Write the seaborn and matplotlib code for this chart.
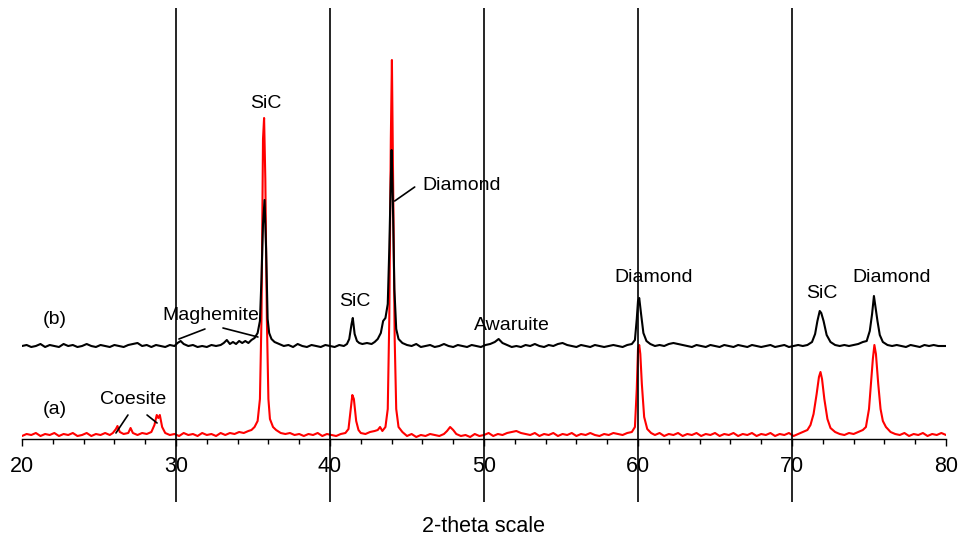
import numpy as np
import pandas as pd
import matplotlib
matplotlib.use("Agg")
import matplotlib.pyplot as plt
import seaborn as sns
from matplotlib.ticker import MultipleLocator

# ── Data (intensity in arbitrary units) ────────────────────────────────────
two_theta_a = [
    20.0, 20.3, 20.6, 20.9, 21.2, 21.5, 21.8, 22.1, 22.4, 22.7, 23.0, 23.3, 23.6, 23.9,
    24.2, 24.5, 24.8, 25.1, 25.4, 25.7, 25.9, 26.1, 26.2, 26.35, 26.6, 26.9, 27.05, 27.2,
    27.5, 27.8, 28.1, 28.4, 28.6, 28.75, 28.85, 28.95, 29.1, 29.3, 29.6, 29.9, 30.2, 30.5,
    30.8, 31.1, 31.4, 31.7, 32.0, 32.3, 32.6, 32.9, 33.2, 33.5, 33.8, 34.1, 34.4, 34.7,
    34.9, 35.1, 35.3, 35.45, 35.55, 35.65, 35.72, 35.8, 35.9, 36.0, 36.1, 36.3, 36.5, 36.8,
    37.1, 37.4, 37.7, 38.0, 38.3, 38.6, 38.9, 39.2, 39.5, 39.8, 40.1, 40.4, 40.7, 41.0,
    41.2, 41.35, 41.45, 41.55, 41.7, 41.85, 42.0, 42.3, 42.6, 42.9, 43.1, 43.25, 43.4, 43.6,
    43.75, 43.85, 43.95, 44.02, 44.1, 44.2, 44.3, 44.45, 44.7, 45.0, 45.3, 45.6, 45.9, 46.2,
    46.5, 46.8, 47.1, 47.4, 47.6, 47.8, 48.0, 48.2, 48.5, 48.8, 49.1, 49.4, 49.7, 50.0,
    50.3, 50.6, 50.9, 51.2, 51.5, 51.8, 52.1, 52.4, 52.7, 53.0, 53.3, 53.6, 53.9, 54.2,
    54.5, 54.8, 55.1, 55.4, 55.7, 56.0, 56.3, 56.6, 56.9, 57.2, 57.5, 57.8, 58.1, 58.4,
    58.7, 59.0, 59.3, 59.6, 59.8, 59.92, 60.0, 60.08, 60.15, 60.25, 60.4, 60.6, 60.85, 61.1,
    61.4, 61.7, 62.0, 62.3, 62.6, 62.9, 63.2, 63.5, 63.8, 64.1, 64.4, 64.7, 65.0, 65.3,
    65.6, 65.9, 66.2, 66.5, 66.8, 67.1, 67.4, 67.7, 68.0, 68.3, 68.6, 68.9, 69.2, 69.5,
    69.8, 70.1, 70.4, 70.7, 71.0, 71.2, 71.4, 71.6, 71.75, 71.85, 71.95, 72.1, 72.3, 72.5,
    72.8, 73.1, 73.4, 73.7, 74.0, 74.3, 74.6, 74.8, 75.0, 75.15, 75.25, 75.35, 75.45, 75.6,
    75.75, 75.9, 76.1, 76.4, 76.7, 77.0, 77.3, 77.6, 77.9, 78.2, 78.5, 78.8, 79.1, 79.4,
    79.7, 80.0,
]
intensity_a = [
    3, 5, 4, 6, 3, 5, 4, 6, 3, 5, 4, 6, 3, 4,
    6, 3, 5, 4, 6, 4, 6, 10, 13, 7, 5, 6, 11, 6,
    4, 6, 5, 7, 14, 24, 21, 24, 12, 6, 4, 5, 3, 6,
    4, 5, 3, 6, 4, 5, 3, 6, 4, 6, 5, 7, 6, 8,
    9, 12, 18, 40, 120, 300, 321, 260, 120, 40, 20, 12, 9, 6,
    5, 6, 4, 5, 3, 5, 4, 6, 3, 5, 4, 3, 5, 6,
    10, 30, 44, 40, 18, 9, 6, 5, 7, 8, 9, 12, 8, 12,
    30, 120, 300, 379, 250, 100, 30, 12, 7, 3, 5, 2, 4, 3,
    5, 4, 3, 5, 8, 12, 9, 5, 3, 4, 2, 5, 3, 4,
    6, 3, 5, 4, 6, 7, 8, 6, 5, 4, 6, 3, 5, 4,
    6, 3, 5, 4, 6, 3, 5, 4, 6, 4, 3, 5, 4, 6,
    5, 4, 6, 7, 12, 50, 90, 94, 85, 55, 22, 10, 6, 4,
    6, 3, 5, 4, 6, 3, 5, 4, 6, 3, 5, 4, 6, 3,
    5, 4, 6, 3, 5, 4, 6, 3, 5, 4, 6, 3, 5, 4,
    6, 3, 5, 7, 9, 14, 25, 45, 62, 67, 60, 40, 20, 11,
    7, 5, 4, 6, 5, 7, 9, 12, 30, 60, 80, 94, 85, 55,
    30, 18, 12, 7, 5, 4, 6, 3, 5, 4, 6, 3, 5, 4,
    6, 4,
]

two_theta_b = [
    20.0, 20.3, 20.6, 20.9, 21.2, 21.5, 21.8, 22.1, 22.4, 22.7, 23.0, 23.3, 23.6, 23.9,
    24.2, 24.5, 24.8, 25.1, 25.4, 25.7, 26.0, 26.3, 26.6, 26.9, 27.2, 27.5, 27.8, 28.1,
    28.4, 28.7, 29.0, 29.3, 29.6, 29.9, 30.1, 30.3, 30.5, 30.8, 31.1, 31.4, 31.7, 32.0,
    32.3, 32.6, 32.9, 33.1, 33.3, 33.5, 33.7, 33.9, 34.1, 34.3, 34.5, 34.7, 34.9, 35.1,
    35.3, 35.45, 35.55, 35.65, 35.75, 35.85, 35.95, 36.05, 36.2, 36.4, 36.7, 37.0, 37.3, 37.6,
    37.9, 38.2, 38.5, 38.8, 39.1, 39.4, 39.7, 40.0, 40.3, 40.6, 40.9, 41.1, 41.25, 41.4,
    41.48, 41.6, 41.75, 41.9, 42.1, 42.4, 42.7, 42.9, 43.1, 43.3, 43.45, 43.6, 43.75, 43.85,
    43.95, 44.0, 44.08, 44.18, 44.3, 44.45, 44.7, 45.0, 45.3, 45.6, 45.9, 46.2, 46.5, 46.8,
    47.1, 47.4, 47.7, 48.0, 48.3, 48.6, 48.9, 49.2, 49.5, 49.8, 50.1, 50.4, 50.7, 50.95,
    51.2, 51.5, 51.8, 52.1, 52.4, 52.7, 53.0, 53.3, 53.6, 53.9, 54.2, 54.5, 54.8, 55.1,
    55.4, 55.7, 56.0, 56.3, 56.6, 56.9, 57.2, 57.5, 57.8, 58.1, 58.4, 58.7, 59.0, 59.3,
    59.6, 59.8, 59.92, 60.0, 60.08, 60.2, 60.35, 60.55, 60.8, 61.1, 61.4, 61.7, 62.0, 62.3,
    62.6, 62.9, 63.2, 63.5, 63.8, 64.1, 64.4, 64.7, 65.0, 65.3, 65.6, 65.9, 66.2, 66.5,
    66.8, 67.1, 67.4, 67.7, 68.0, 68.3, 68.6, 68.9, 69.2, 69.5, 69.8, 70.1, 70.4, 70.7,
    71.0, 71.3, 71.5, 71.65, 71.8, 71.9, 72.05, 72.25, 72.5, 72.8, 73.1, 73.4, 73.7, 74.0,
    74.3, 74.6, 74.85, 75.05, 75.2, 75.32, 75.42, 75.55, 75.7, 75.9, 76.2, 76.5, 76.8, 77.1,
    77.4, 77.7, 78.0, 78.3, 78.6, 78.9, 79.2, 79.5, 79.8, 80.0,
]
intensity_b = [
    93, 94, 92, 93, 95, 92, 94, 93, 92, 95, 93, 94, 92, 93,
    95, 93, 92, 94, 93, 92, 94, 93, 92, 94, 95, 96, 93, 94,
    92, 94, 93, 92, 94, 93, 96, 98, 95, 93, 94, 92, 93, 92,
    94, 93, 94, 96, 99, 95, 97, 95, 98, 96, 98, 96, 99, 101,
    106, 118, 160, 215, 239, 190, 120, 106, 100, 97, 95, 93, 94, 92,
    95, 93, 92, 94, 93, 92, 94, 93, 92, 94, 93, 95, 100, 115,
    121, 105, 98, 96, 95, 96, 95, 97, 100, 106, 118, 121, 135, 190,
    260, 289, 240, 150, 110, 100, 96, 94, 93, 95, 92, 93, 94, 92,
    93, 95, 93, 92, 94, 93, 92, 94, 93, 92, 94, 95, 97, 100,
    96, 94, 92, 93, 92, 94, 93, 95, 93, 92, 94, 93, 95, 96,
    94, 93, 92, 94, 93, 92, 94, 93, 92, 93, 94, 93, 92, 94,
    95, 99, 120, 138, 141, 125, 106, 98, 95, 93, 94, 93, 95, 96,
    95, 94, 93, 92, 94, 93, 92, 94, 93, 92, 94, 93, 92, 94,
    93, 92, 94, 93, 92, 93, 94, 92, 93, 94, 92, 93, 94, 93,
    94, 97, 105, 118, 128, 126, 118, 104, 97, 94, 93, 94, 93, 94,
    95, 97, 98, 108, 125, 143, 132, 118, 104, 97, 94, 93, 94, 93,
    92, 94, 93, 92, 94, 93, 94, 93, 93, 93,
]

grid_positions = [30, 40, 50, 60, 70]

# phase labels: (text, x, y)
peak_labels = [
    ("SiC", 35.84, 336),
    ("SiC", 41.6, 137),
    ("Awaruite", 51.8, 114),
    ("Diamond", 61.04, 161),
    ("SiC", 71.95, 146),
    ("Diamond", 76.5, 161),
    ("Maghemite", 32.27, 124),
    ("Coesite", 27.2, 39),
    ("(b)", 22.14, 119),
    ("(a)", 22.14, 29),
]

df_a = pd.DataFrame({"two_theta": two_theta_a, "intensity": intensity_a})
df_b = pd.DataFrame({"two_theta": two_theta_b, "intensity": intensity_b})

# ── Plot ────────────────────────────────────────────────────────────────────
sns.set_theme(style="white")
plt.rcParams["font.family"] = ["Liberation Sans", "DejaVu Sans"]
plt.rcParams["text.color"] = "black"
plt.rcParams["axes.labelcolor"] = "black"
plt.rcParams["xtick.color"] = "black"
plt.rcParams["xtick.labelcolor"] = "black"

fig = plt.figure(figsize=(9.58, 5.39), dpi=100)
ax = fig.add_axes([22 / 958, 100 / 539, 924 / 958, 431 / 539])

sns.lineplot(data=df_a, x="two_theta", y="intensity", color="#ff0000",
             linewidth=1.5, estimator=None, ax=ax)
sns.lineplot(data=df_b, x="two_theta", y="intensity", color="black",
             linewidth=1.5, estimator=None, ax=ax)

ax.set_xlim(20, 80)
ax.set_ylim(0, 431)

# vertical reference lines run past the axis, through the tick labels
ax.vlines(grid_positions, -63, 431, colors="black", linewidth=1.2, clip_on=False)

for name in ["top", "left", "right"]:
    ax.spines[name].set_visible(False)
ax.spines["bottom"].set_color("black")
ax.spines["bottom"].set_linewidth(1.0)

ax.set_yticks([])
ax.xaxis.set_major_locator(MultipleLocator(10))
ax.xaxis.set_minor_locator(MultipleLocator(2))
ax.tick_params(axis="x", which="major", direction="out", length=5, width=1,
               color="black", labelcolor="black", labelsize=15.5, pad=7, bottom=True)
ax.tick_params(axis="x", which="minor", direction="out", length=3.5, width=1,
               color="black", bottom=True)
ax.set_xlabel("2-theta scale", fontsize=15.5, labelpad=28, color="black")
ax.set_ylabel("")

for text, x, y in peak_labels:
    ax.text(x, y, text, fontsize=14, ha="center", va="center", color="black")
ax.text(45.97, 254, "Diamond", fontsize=14, ha="left", va="center", color="black")

# leader lines
ax.plot([44.2, 45.5], [238, 252], color="black", linewidth=1.2)
ax.plot([30.19, 31.88], [100, 110], color="black", linewidth=1.2)
ax.plot([33.05, 35.32], [111, 102], color="black", linewidth=1.2)
ax.plot([26.1, 26.88], [6, 24], color="black", linewidth=1.2)
ax.plot([28.12, 28.77], [24, 16], color="black", linewidth=1.2)

fig.savefig("out.png", dpi=100)
plt.close(fig)
